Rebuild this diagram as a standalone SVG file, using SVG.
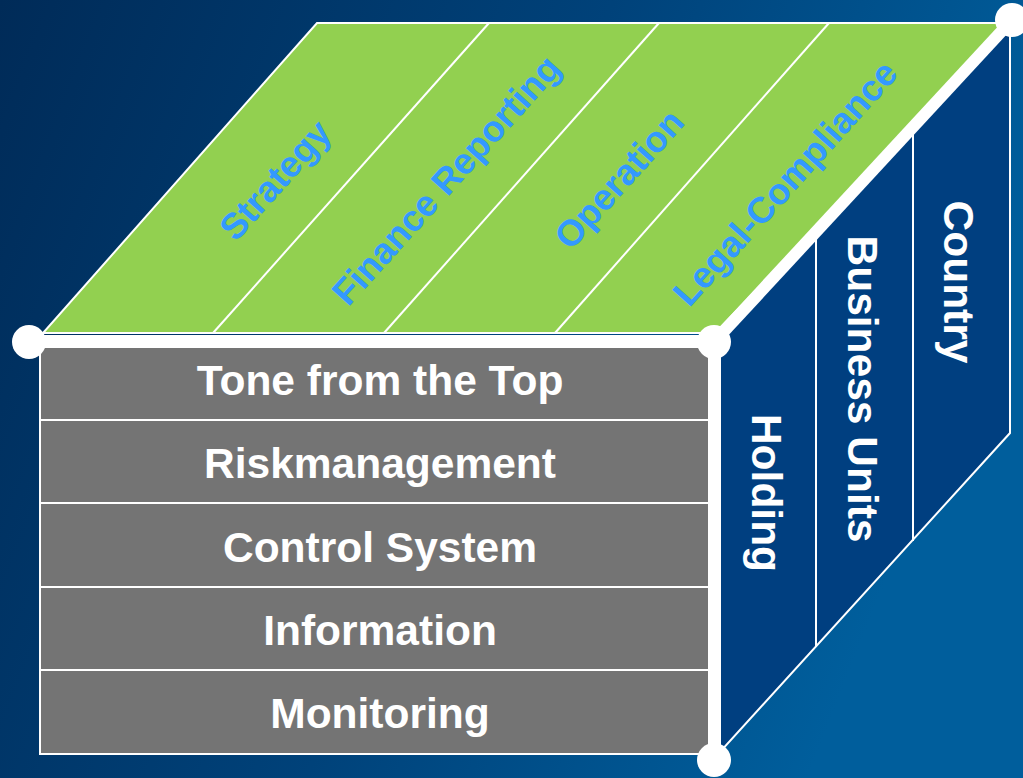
<svg xmlns="http://www.w3.org/2000/svg" width="1023" height="778" viewBox="0 0 1023 778">
  <defs>
    <linearGradient id="bg" x1="0" y1="0" x2="1" y2="0.3">
      <stop offset="0" stop-color="#002b58"/>
      <stop offset="0.55" stop-color="#00427a"/>
      <stop offset="1" stop-color="#005e9c"/>
    </linearGradient>
    <style>
      .thin { stroke: #ffffff; stroke-width: 2; fill: none; }
      .thick { stroke: #ffffff; stroke-width: 12; fill: none; stroke-linecap: butt; }
      .dot { fill: #ffffff; }
      .front { font-family: "Liberation Sans", Arial, sans-serif; font-weight: bold; font-size: 42.5px; fill: #ffffff; text-anchor: middle; }
      .side { font-family: "Liberation Sans", Arial, sans-serif; font-weight: bold; font-size: 42.5px; fill: #ffffff; text-anchor: middle; }
      .top { font-family: "Liberation Sans", Arial, sans-serif; font-weight: bold; font-size: 36.5px; fill: #3399ff; text-anchor: middle; }
    </style>
  </defs>
  <rect x="0" y="0" width="1023" height="778" fill="url(#bg)"/>

  <g id="right-face">
    <polygon points="715,342 1010,22 1010,433 720,752" fill="#003f80" stroke="#ffffff" stroke-width="2"/>
    <line class="thin" x1="816" y1="232" x2="816" y2="647"/>
    <line class="thin" x1="913" y1="127" x2="913" y2="541"/>
    <text class="side" transform="translate(752,493) rotate(90)">Holding</text>
    <text class="side" transform="translate(848,389) rotate(90)">Business Units</text>
    <text class="side" transform="translate(944,282) rotate(90)">Country</text>
  </g>

  <g id="top-face">
    <polygon points="317,23 1012,23 715,333 43,333" fill="#92d050" stroke="#ffffff" stroke-width="2"/>
    <line class="thin" x1="213" y1="333" x2="489" y2="23"/>
    <line class="thin" x1="384" y1="333" x2="659" y2="23"/>
    <line class="thin" x1="555" y1="333" x2="829" y2="23"/>
    <text class="top" transform="translate(275,180) rotate(-48)" dy="0.35em">Strategy</text>
    <text class="top" transform="translate(446,180) rotate(-48)" dy="0.35em">Finance Reporting</text>
    <text class="top" transform="translate(619,179) rotate(-48)" dy="0.35em">Operation</text>
    <text class="top" transform="translate(785,183) rotate(-48)" dy="0.35em">Legal-Compliance</text>
  </g>

  <g id="front-face">
    <rect x="40" y="347" width="669" height="407" fill="#747474" stroke="#ffffff" stroke-width="2"/>
    <line class="thin" x1="40" y1="420" x2="709" y2="420"/>
    <line class="thin" x1="40" y1="503" x2="709" y2="503"/>
    <line class="thin" x1="40" y1="587" x2="709" y2="587"/>
    <line class="thin" x1="40" y1="670" x2="709" y2="670"/>
    <text class="front" x="380" y="395">Tone from the Top</text>
    <text class="front" x="380" y="478">Riskmanagement</text>
    <text class="front" x="380" y="562">Control System</text>
    <text class="front" x="380" y="645">Information</text>
    <text class="front" x="380" y="728">Monitoring</text>
  </g>

  <g id="connectors">
    <line class="thick" x1="29" y1="341" x2="715" y2="341"/>
    <line class="thick" x1="715" y1="341" x2="715" y2="760"/>
    <line class="thick" x1="715" y1="341" x2="1012" y2="20"/>
    <circle class="dot" cx="29" cy="342" r="17"/>
    <circle class="dot" cx="714" cy="342" r="17"/>
    <circle class="dot" cx="714" cy="760" r="17"/>
    <circle class="dot" cx="1012" cy="20" r="17"/>
  </g>
</svg>
